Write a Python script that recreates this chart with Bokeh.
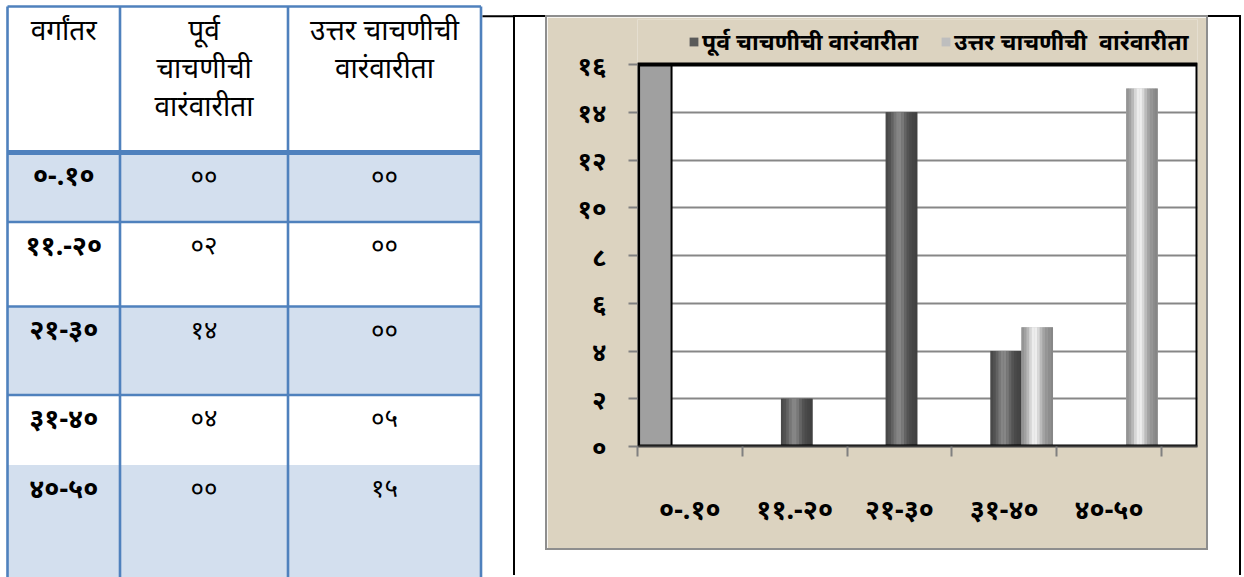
from bokeh.plotting import figure
from bokeh.models import Range1d, FixedTicker, Legend, LegendItem
from bokeh.layouts import row, column
from bokeh.embed import file_html
from bokeh.resources import INLINE
from bokeh.core.properties import value

# ---------------- data ----------------
class_intervals = ["०-.१०", "११.-२०", "२१-३०", "३१-४०", "४०-५०"]
header_texts = ["वर्गांतर", "पूर्व\nचाचणीची\nवारंवारीता", "उत्तर चाचणीची\nवारंवारीता"]
pre_test_text = ["००", "०२", "१४", "०४", "००"]
post_test_text = ["००", "००", "००", "०५", "१५"]
pre_test_label = "पूर्व चाचणीची वारंवारीता"
post_test_label = "उत्तर चाचणीची  वारंवारीता"
pre_test_freq = [0, 2, 14, 4, 0]
post_test_freq = [0, 0, 0, 5, 15]
left_band_values = [16, 0, 0, 0, 0]  # grey column at the left of the first class
y_ticks = [0, 2, 4, 6, 8, 10, 12, 14, 16]

DEV = "०१२३४५६७८९"


def dev(n):
    return "".join(DEV[int(c)] for c in str(n))


FONT = "Noto Sans, DejaVu Sans, sans-serif"
BLUE = "#4f81bd"
LIGHT_BLUE = "#d3dfee"
PARCH = "#dcd3c0"

# ---------------- table (left) ----------------
tab = figure(width=513, height=577, x_range=Range1d(0, 513), y_range=Range1d(577, 0),
             x_axis_type=None, y_axis_type=None, output_backend="svg", toolbar_location=None,
             min_border_left=0, min_border_right=0, min_border_top=0, min_border_bottom=0)
tab.grid.visible = False
tab.outline_line_color = None
tab.background_fill_color = "white"
tab.border_fill_color = "white"

col_edges = [7, 119.5, 287.5, 480.5]
row_edges = [6, 152, 221.5, 306, 394.5, 464.5, 590]
n_rows = len(class_intervals)

fill_colors = ["white"] + [LIGHT_BLUE if i % 2 == 0 else "white" for i in range(n_rows)]
tab.quad(left=[col_edges[0]] * (n_rows + 1), right=[col_edges[-1]] * (n_rows + 1),
         top=row_edges[:-1], bottom=row_edges[1:], fill_color=fill_colors, line_color=None)

tab.segment(x0=col_edges, x1=col_edges, y0=[row_edges[0]] * 4, y1=[row_edges[-1]] * 4,
            line_color=BLUE, line_width=2.6)
hw = [2.6, 5] + [2.6] * (n_rows - 1)
tab.segment(x0=[col_edges[0]] * n_rows, x1=[col_edges[-1]] * n_rows,
            y0=row_edges[:-1], y1=row_edges[:-1], line_color=BLUE, line_width=hw[:n_rows])
tab.segment(x0=[482], x1=[513], y0=[15.7], y1=[15.7], line_color="black", line_width=2)

centers = [(col_edges[i] + col_edges[i + 1]) / 2 for i in range(3)]
hx, hy, ht = [], [], []
for ci, h in enumerate(header_texts):
    for li, line in enumerate(h.split("\n")):
        hx.append(centers[ci])
        hy.append(28 + 38 * li)
        ht.append(line)
tab.text(x=hx, y=hy, text=ht, text_align="center", text_baseline="middle",
         text_font=value(FONT), text_font_size="28px", text_color="black")

row_text_y = [row_edges[i + 1] + 22 for i in range(n_rows)]
tab.text(x=[centers[0]] * n_rows, y=row_text_y, text=class_intervals, text_align="center",
         text_baseline="middle", text_font=value(FONT), text_font_size="27px",
         text_font_style="bold", text_color="black")
tab.text(x=[centers[1]] * n_rows, y=row_text_y, text=pre_test_text, text_align="center",
         text_baseline="middle", text_font=value(FONT), text_font_size="26px", text_color="black")
tab.text(x=[centers[2]] * n_rows, y=row_text_y, text=post_test_text, text_align="center",
         text_baseline="middle", text_font=value(FONT), text_font_size="26px", text_color="black")

# ---------------- chart (right) ----------------
n = len(class_intervals)
X_MAX = 5.345
Y_MAX = 16
Y_TOP = Y_MAX + 1.885   # frame reaches above the plot box so the legend can sit there
chart = figure(width=659, height=531, x_range=Range1d(0, X_MAX), y_range=Range1d(0, Y_TOP),
               output_backend="svg", toolbar_location=None,
               min_border_left=90, min_border_right=9, min_border_top=2, min_border_bottom=102,
               border_fill_color=PARCH, background_fill_color=PARCH, outline_line_color=None)
chart.grid.visible = False

# white plot box
chart.quad(left=[0], right=[X_MAX], bottom=[0], top=[Y_MAX], fill_color="white", line_color=None)
# horizontal gridlines
chart.hspan(y=y_ticks, line_color="#878787", line_width=2)

yax = chart.yaxis[0]
yax.ticker = FixedTicker(ticks=y_ticks)
yax.major_label_overrides = {t: dev(t) for t in y_ticks}
yax.axis_line_color = None
yax.major_tick_in = 0
yax.major_tick_out = 9
yax.major_tick_line_color = "#808080"
yax.major_tick_line_width = 2
yax.minor_tick_line_color = None
yax.major_label_standoff = 22
yax.major_label_text_font = FONT
yax.major_label_text_font_size = "26px"
yax.major_label_text_font_style = "bold"
yax.major_label_text_color = "black"

xax = chart.xaxis[0]
xax.ticker = FixedTicker(ticks=[i + 0.5 for i in range(n)], minor_ticks=list(range(n + 1)))
xax.major_label_overrides = {i + 0.5: c for i, c in enumerate(class_intervals)}
xax.major_tick_line_color = None
xax.major_tick_in = 0
xax.major_tick_out = 10
xax.minor_tick_in = 0
xax.minor_tick_out = 10
xax.minor_tick_line_color = "#808080"
xax.minor_tick_line_width = 2
xax.axis_line_color = "#404040"
xax.axis_line_width = 2
xax.major_label_standoff = 33
xax.major_label_text_font = FONT
xax.major_label_text_font_size = "27px"
xax.major_label_text_font_style = "bold"
xax.major_label_text_color = "black"

BAR_W = 0.3
x_band = [i + 0.5 - 0.33 for i in range(n)]
x_pre = [i + 0.5 + 0.02 for i in range(n)]
x_post = [i + 0.5 + 0.315 for i in range(n)]

chart.vbar(x=x_band, top=left_band_values, width=0.31, bottom=0,
           fill_color="#a0a0a0", line_color="black", line_width=2)


def hexg(v):
    v = max(0, min(255, int(round(v))))
    return "#%02x%02x%02x" % (v, v, v)


def shaded(xs, tops, base, amp, edge, legend_color):
    r = chart.vbar(x=xs, top=tops, width=BAR_W, bottom=0, fill_color=legend_color, line_color=None)
    k = 12
    for j in range(k):
        t = (j + 0.5) / k
        b = base + amp * (2.718 ** (-((t - 0.42) / 0.22) ** 2)) - edge * (abs(t - 0.42) ** 2)
        xj = [x - BAR_W / 2 + t * BAR_W for x in xs]
        chart.vbar(x=xj, top=tops, width=BAR_W / k * 1.08, bottom=0, fill_color=hexg(b),
                   line_color=None)
    return r


r_pre = shaded(x_pre, pre_test_freq, 0x4c, 0x3c, 40, "#5a5a5a")
r_post = shaded(x_post, post_test_freq, 0x98, 0x58, 60, "#bebebe")

# black plot box border
chart.quad(left=[0], right=[X_MAX], bottom=[0], top=[Y_MAX], fill_color=None,
           line_color="black", line_width=4)

legend = Legend(items=[LegendItem(label=pre_test_label, renderers=[r_pre]),
                       LegendItem(label=post_test_label, renderers=[r_post])],
                orientation="horizontal", location=(51, 389),
                background_fill_alpha=0, border_line_color=None,
                glyph_width=11, glyph_height=11, spacing=22, padding=2, margin=0,
                label_text_font=FONT, label_text_font_size="23px",
                label_text_font_style="bold", label_text_color="black", label_standoff=3)
chart.add_layout(legend, "center")

chart.margin = (0, 33, 27, 32)
chart.styles = {"outline": "2px solid #8e8e8e"}

panel = column(chart, margin=(15, 0, 0, 0),
               styles={"border-top": "2px solid black", "border-left": "2px solid black",
                       "border-right": "2px solid black"})

layout = row(tab, panel)

open("out.html", "w").write(file_html(layout, INLINE))
